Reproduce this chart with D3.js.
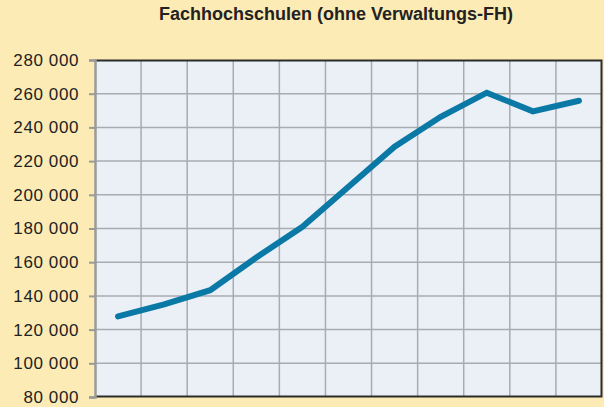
<!DOCTYPE html>
<html>
<head>
<meta charset="utf-8">
<script src="https://cdn.jsdelivr.net/npm/d3@7"></script>
<style>
  html, body { margin: 0; padding: 0; background: #fdebb5; }
  svg { display: block; }
</style>
</head>
<body>
<svg id="chart" width="604" height="407"></svg>
<script>
// Daten
const periods = ["1", "2", "3", "4", "5", "6", "7", "8", "9", "10", "11"];
const students = [127800, 135000, 143400, 162800, 181000, 204800, 228500, 246300, 260600, 249500, 255800];
const yTicks = [80000, 100000, 120000, 140000, 160000, 180000, 200000, 220000, 240000, 260000, 280000];
const title = "Fachhochschulen (ohne Verwaltungs-FH)";

const svg = d3.select("#chart");
const width = +svg.attr("width");
const height = +svg.attr("height");
const margin = { top: 60, right: 2, bottom: 10, left: 95 };
const innerW = width - margin.left - margin.right;
const innerH = height - margin.top - margin.bottom;

svg.append("rect").attr("width", width).attr("height", height).attr("fill", "#fdebb5");

svg.append("text")
  .attr("x", 336).attr("y", 19.5)
  .attr("text-anchor", "middle")
  .style("font-family", "'Liberation Sans', Arial, sans-serif")
  .style("font-weight", "bold")
  .style("font-size", "18px")
  .style("fill", "#222")
  .text(title);

const x = d3.scaleBand().domain(periods).range([0, innerW]);
const y = d3.scaleLinear().domain([80000, 280000]).range([innerH, 0]);

const g = svg.append("g").attr("transform", `translate(${margin.left},${margin.top})`);

g.append("rect").attr("width", innerW).attr("height", innerH).attr("fill", "#ebf0f7");

// Gitter
g.selectAll("line.hgrid")
  .data(yTicks.slice(1, -1)).enter().append("line")
  .attr("class", "hgrid")
  .attr("x1", 0).attr("x2", innerW)
  .attr("y1", d => y(d)).attr("y2", d => y(d))
  .style("stroke", "#a9abae").style("stroke-width", 1.5);

g.selectAll("line.vgrid")
  .data(periods.slice(1)).enter().append("line")
  .attr("class", "vgrid")
  .attr("x1", d => x(d)).attr("x2", d => x(d))
  .attr("y1", 0).attr("y2", innerH)
  .style("stroke", "#a9abae").style("stroke-width", 1.5);

// Rahmen oben/rechts/unten
g.append("path")
  .attr("d", `M0,0.5H${innerW - 0.5}V${innerH - 0.5}H0`)
  .attr("fill", "none")
  .style("stroke", "#2b2b2b").style("stroke-width", 2);

// y-Achse
const yAxis = d3.axisLeft(y)
  .tickValues(yTicks)
  .tickSize(6)
  .tickPadding(10)
  .tickFormat(d => d3.format(",")(d).replace(/,/g, " "));

const ya = g.append("g").call(yAxis);
ya.select(".domain").style("stroke", "#9a9a9a").style("stroke-width", 2.5);
ya.selectAll(".tick line").style("stroke", "#9a9a9a").style("stroke-width", 2);
ya.selectAll(".tick text")
  .style("font-family", "'Liberation Sans', Arial, sans-serif")
  .style("font-size", "17px")
  .style("letter-spacing", "0.6px")
  .style("fill", "#222");

// Linie
const line = d3.line()
  .x((d, i) => x(periods[i]) + x.bandwidth() / 2)
  .y(d => y(d));

g.append("path")
  .datum(students)
  .attr("d", line)
  .attr("fill", "none")
  .style("stroke", "#0b79a6")
  .style("stroke-width", 6)
  .style("stroke-linecap", "round")
  .style("stroke-linejoin", "miter");
</script>
</body>
</html>
